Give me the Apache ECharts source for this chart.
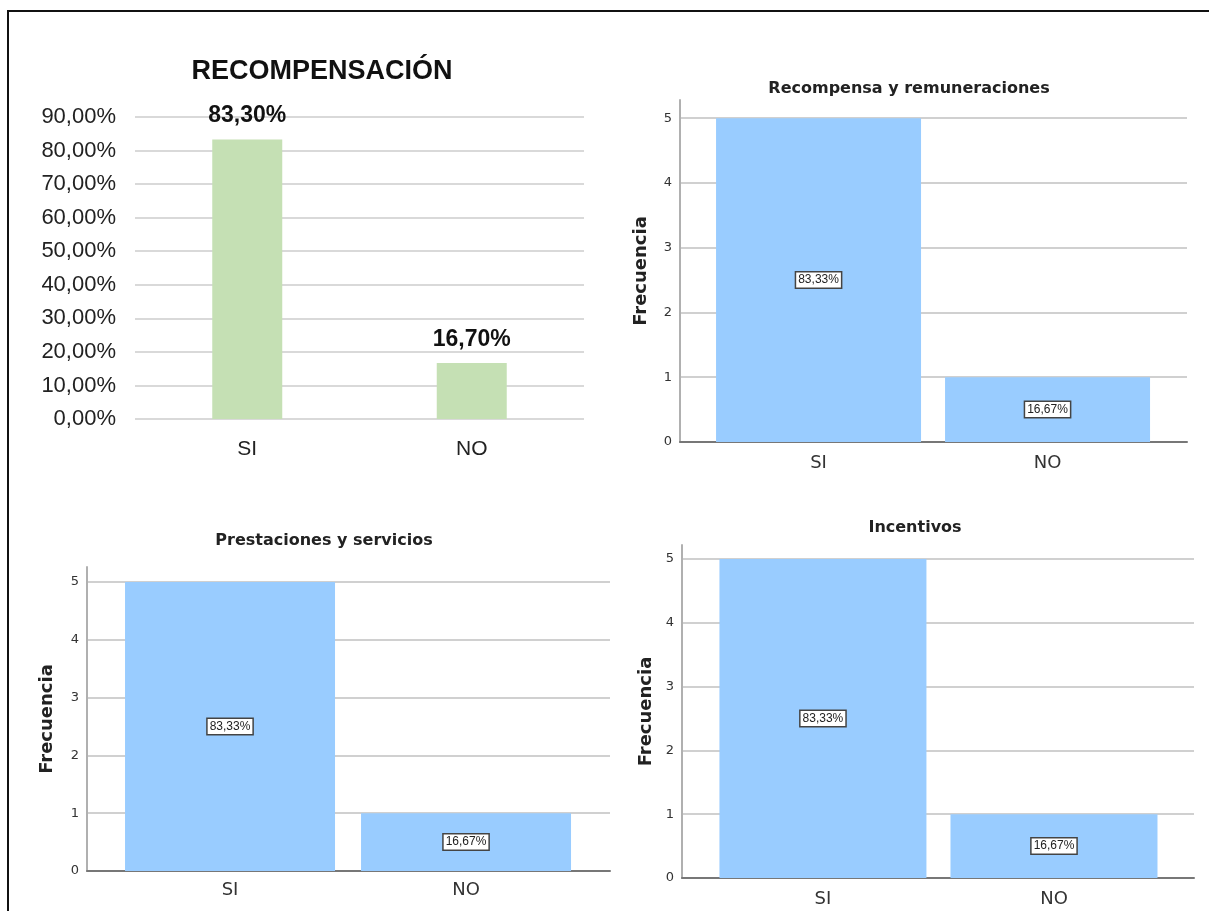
<!DOCTYPE html>
<html>
<head>
<meta charset="utf-8">
<title>Recompensación</title>
<script src="https://cdn.jsdelivr.net/npm/echarts@6/dist/echarts.min.js"></script>
<style>
html, body { margin: 0; padding: 0; background: #fff; }
#main { width: 1209px; height: 911px; }
</style>
</head>
<body>
<div id="main"></div>
<script>
// datos
var categories = ['SI', 'NO'];

// gráfico resumen (porcentaje)
var recompTitle = 'RECOMPENSACIÓN';
var recompValues = [83.3, 16.7];
var recompTicks = ['0,00%', '10,00%', '20,00%', '30,00%', '40,00%', '50,00%', '60,00%', '70,00%', '80,00%', '90,00%'];

// gráficos SPSS (frecuencia)
var freqTicks = ['0', '1', '2', '3', '4', '5'];

var remunTitle = 'Recompensa y remuneraciones';
var remunFreq = [5, 1];
var remunPct = ['83,33%', '16,67%'];

var prestTitle = 'Prestaciones y servicios';
var prestFreq = [5, 1];
var prestPct = ['83,33%', '16,67%'];

var incentTitle = 'Incentivos';
var incentFreq = [5, 1];
var incentPct = ['83,33%', '16,67%'];

var myChart = echarts.init(document.getElementById('main'));

var titles = [];
var grids = [];
var xAxes = [];
var yAxes = [];
var series = [];

// --- gráfico 1: RECOMPENSACIÓN ---
titles.push({
    text: recompTitle,
    left: 317,
    top: 53,
    textAlign: 'center',
    textStyle: { fontFamily: 'Liberation Sans', fontWeight: 'bold', fontSize: 27, color: '#111' }
});
grids.push({ left: 135, top: 117, width: 449, height: 302 });
xAxes.push({
    gridIndex: 0,
    type: 'category',
    data: categories,
    axisLine: { show: false },
    axisTick: { show: false },
    axisLabel: { fontFamily: 'Liberation Sans', fontSize: 21, color: '#222', margin: 20 }
});
yAxes.push({
    gridIndex: 0,
    type: 'value',
    min: 0,
    max: 90,
    interval: 10,
    axisLine: { show: false },
    axisTick: { show: false },
    axisLabel: {
        fontFamily: 'Liberation Sans', fontSize: 22, color: '#222', margin: 19,
        formatter: function (v) { return recompTicks[Math.round(v / 10)]; }
    },
    splitLine: { lineStyle: { color: '#d9d9d9', width: 2 } }
});
series.push({
    type: 'bar',
    xAxisIndex: 0,
    yAxisIndex: 0,
    data: recompValues,
    barWidth: 70,
    itemStyle: { color: '#c5e0b4' },
    label: {
        show: true,
        position: 'top',
        distance: 12,
        fontFamily: 'Liberation Sans',
        fontWeight: 'bold',
        fontSize: 23,
        color: '#111',
        formatter: function (p) { return p.value.toFixed(2).replace('.', ',') + '%'; }
    }
});

// --- gráficos SPSS ---
function addSpss(idx, cfg) {
    titles.push({
        text: cfg.title,
        left: cfg.titleX,
        top: cfg.titleY,
        textAlign: 'center',
        textStyle: { fontFamily: 'DejaVu Sans', fontWeight: 'bold', fontSize: 16, color: '#222' }
    });
    grids.push({ left: cfg.left, top: cfg.top, width: cfg.width, height: cfg.height });
    xAxes.push({
        gridIndex: idx,
        type: 'value',
        min: cfg.xMin,
        max: cfg.xMax,
        axisLine: { show: true, onZero: false, lineStyle: { color: '#777', width: 2 } },
        axisTick: { show: false },
        splitLine: { show: false },
        axisLabel: {
            customValues: [0, 1],
            fontFamily: 'DejaVu Sans', fontSize: 18, color: '#333', margin: cfg.xLabelMargin,
            formatter: function (v) { return categories[Math.round(v)]; }
        }
    });
    yAxes.push({
        gridIndex: idx,
        type: 'value',
        min: 0,
        max: cfg.yMax,
        interval: 1,
        name: 'Frecuencia',
        nameLocation: 'middle',
        nameRotate: 90,
        nameGap: cfg.nameGap,
        nameTextStyle: { fontFamily: 'DejaVu Sans', fontWeight: 'bold', fontSize: 18, color: '#222' },
        axisLine: { show: true, onZero: false, lineStyle: { color: '#b0b0b0', width: 2 } },
        axisTick: { show: false },
        axisLabel: {
            showMaxLabel: false,
            fontFamily: 'DejaVu Sans', fontSize: 13, color: '#333', margin: 8,
            formatter: function (v) { return freqTicks[Math.round(v)] || ''; }
        },
        splitLine: { showMaxLine: false, lineStyle: { color: '#d0d0d0', width: 2 } }
    });
    series.push({
        type: 'bar',
        xAxisIndex: idx,
        yAxisIndex: idx,
        data: cfg.freq.map(function (f, i) { return [i, f]; }),
        barWidth: cfg.barWidth,
        itemStyle: { color: '#99ccff' },
        label: {
            show: true,
            position: 'inside',
            fontFamily: 'Liberation Sans',
            fontSize: 12,
            color: '#222',
            backgroundColor: '#fff',
            borderColor: '#444',
            borderWidth: 1.5,
            padding: [2, 2, 1, 2],
            formatter: function (p) { return cfg.pct[p.dataIndex]; }
        }
    });
}

addSpss(1, {
    title: remunTitle, titleX: 904, titleY: 76,
    left: 680, top: 100, width: 507, height: 342,
    xMin: -0.605, xMax: 1.609, yMax: 5.28,
    barWidth: 205, nameGap: 30, xLabelMargin: 12,
    freq: remunFreq, pct: remunPct
});
addSpss(2, {
    title: prestTitle, titleX: 319, titleY: 528,
    left: 87, top: 567, width: 523, height: 304,
    xMin: -0.606, xMax: 1.61, yMax: 5.26,
    barWidth: 210, nameGap: 31, xLabelMargin: 10,
    freq: prestFreq, pct: prestPct
});
addSpss(3, {
    title: incentTitle, titleX: 910, titleY: 515,
    left: 682, top: 545, width: 512, height: 333,
    xMin: -0.61, xMax: 1.606, yMax: 5.22,
    barWidth: 207, nameGap: 27, xLabelMargin: 12,
    freq: incentFreq, pct: incentPct
});

var option = {
    backgroundColor: '#fff',
    animation: false,
    title: titles,
    grid: grids,
    xAxis: xAxes,
    yAxis: yAxes,
    series: series,
    graphic: [
        // marco
        { type: 'line', shape: { x1: 7, y1: 11, x2: 1209, y2: 11 }, style: { stroke: '#111', lineWidth: 2 } },
        { type: 'line', shape: { x1: 8, y1: 10, x2: 8, y2: 911 }, style: { stroke: '#111', lineWidth: 2 } }
    ]
};

myChart.setOption(option);
</script>
</body>
</html>
